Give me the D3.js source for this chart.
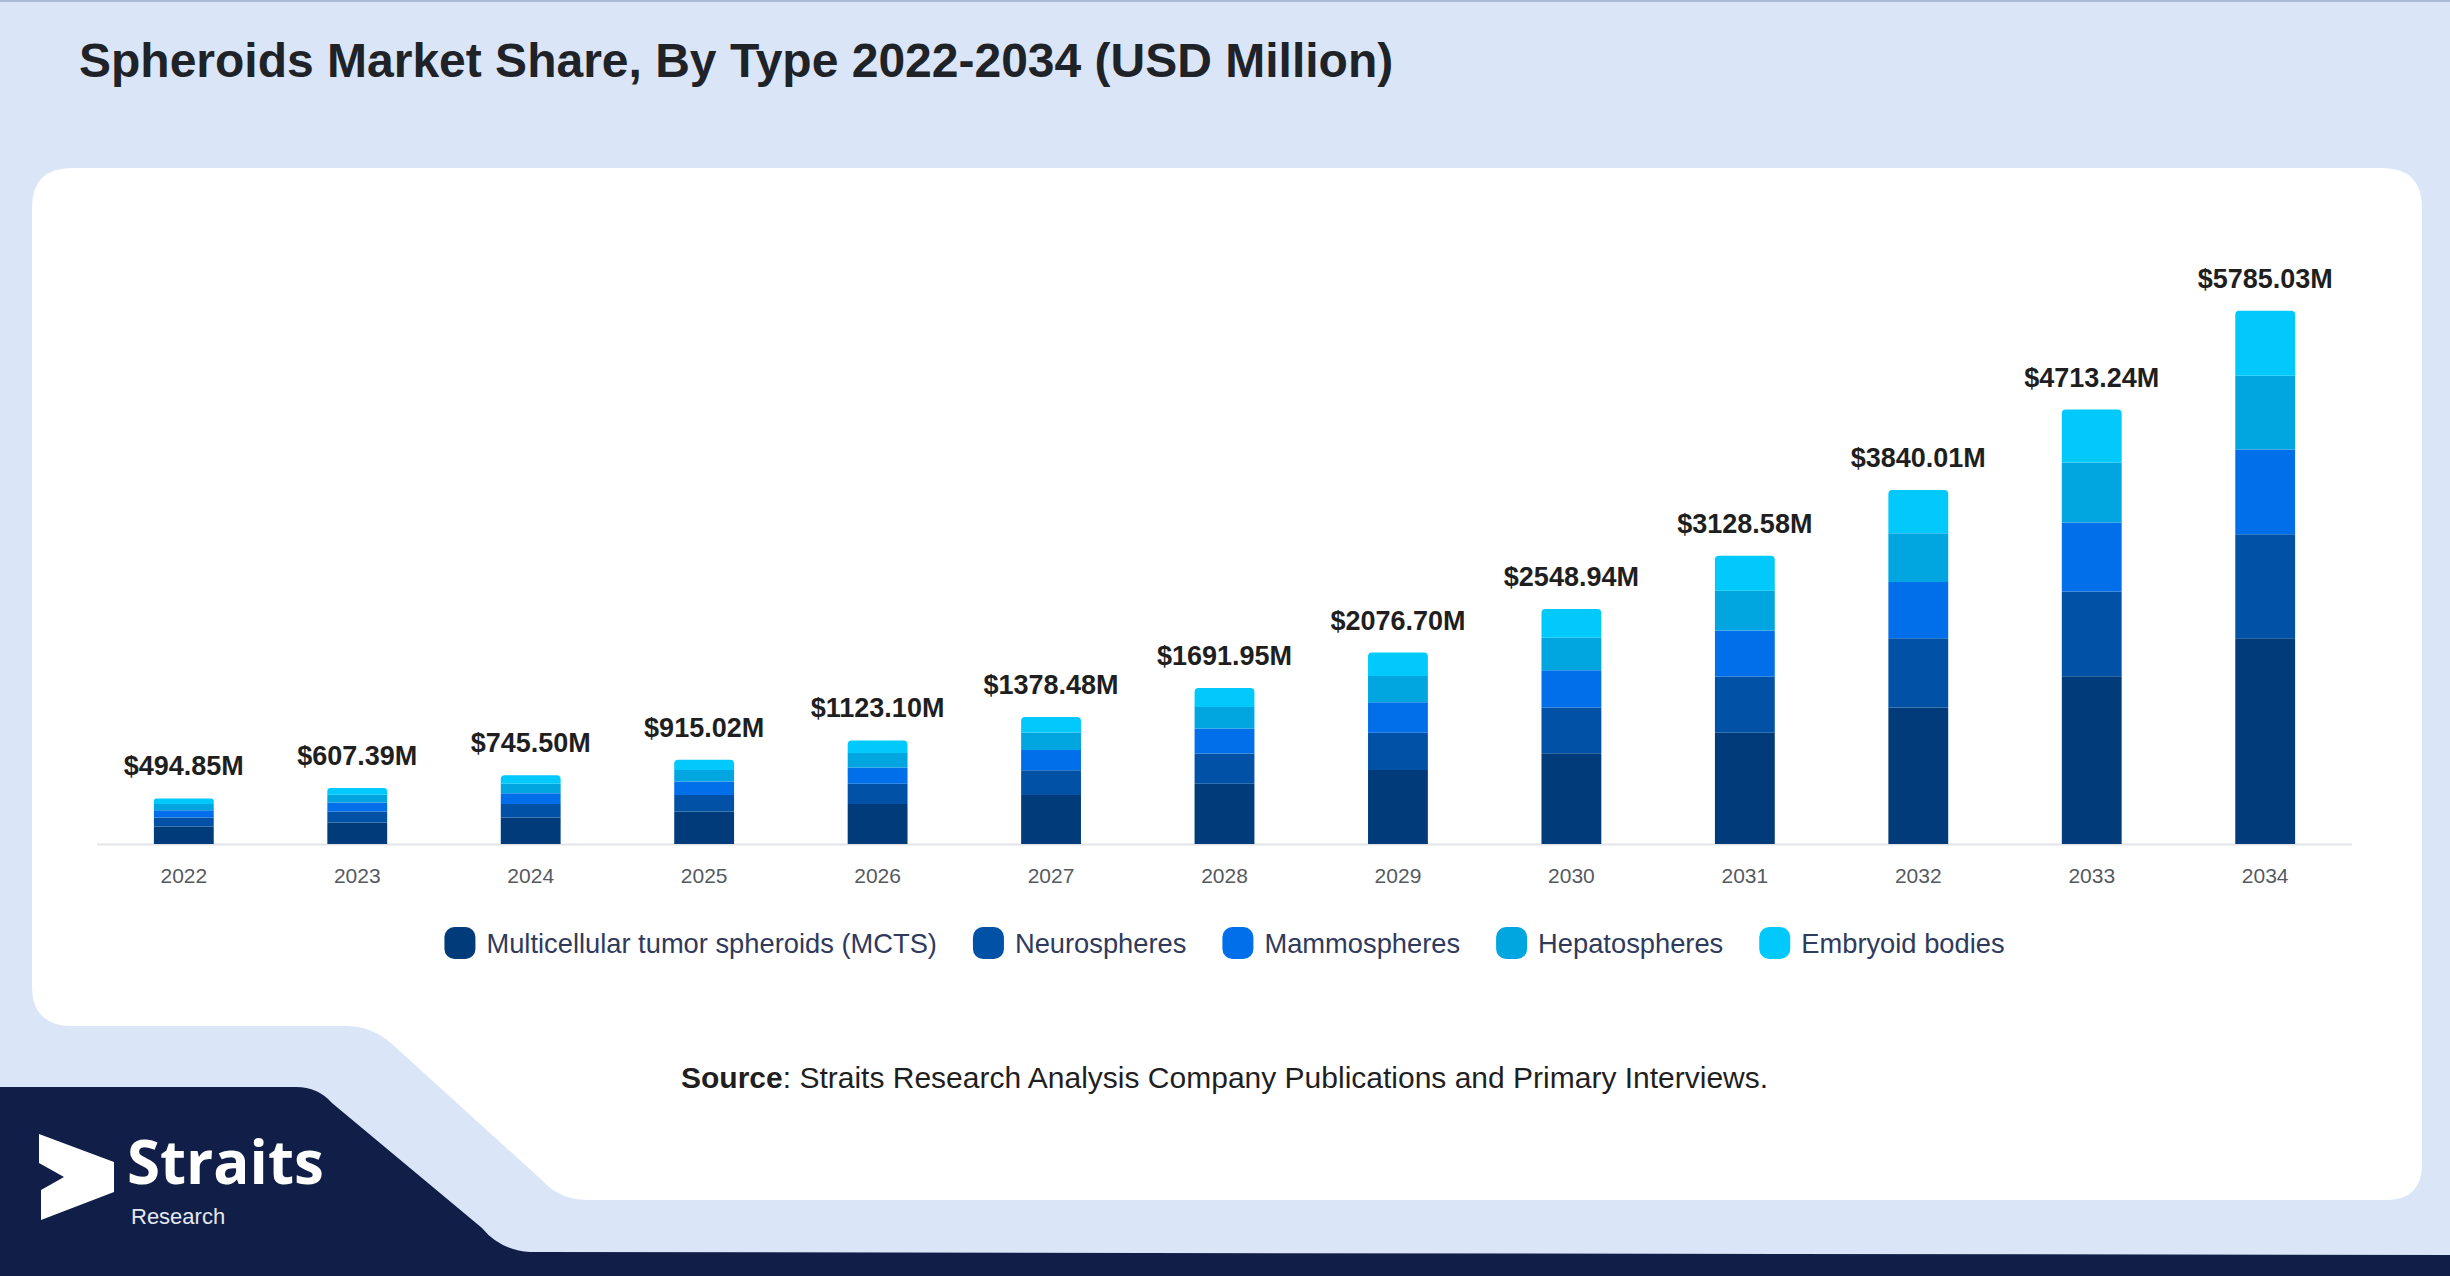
<!DOCTYPE html>
<html>
<head>
<meta charset="utf-8">
<script src="https://cdn.jsdelivr.net/npm/d3@7/dist/d3.min.js"></script>
<style>
  html, body { margin: 0; padding: 0; background: #dae6f8; }
  svg { display: block; }
</style>
</head>
<body>
<svg id="chart" width="2450" height="1276"></svg>
<script>
// Data (USD million)
const years = ['2022', '2023', '2024', '2025', '2026', '2027', '2028', '2029', '2030', '2031', '2032', '2033', '2034'];
const seriesNames = ['Multicellular tumor spheroids (MCTS)', 'Neurospheres', 'Mammospheres', 'Hepatospheres', 'Embryoid bodies'];
const mcts = [191.01, 234.45, 287.76, 353.20, 433.52, 532.09, 653.09, 801.61, 983.89, 1207.63, 1482.24, 1819.31, 2233.02];
const neuro = [96.50, 118.44, 145.37, 178.43, 219.00, 268.80, 329.93, 404.96, 497.04, 610.07, 748.80, 919.08, 1128.08];
const mammo = [78.68, 96.58, 118.53, 145.49, 178.57, 219.18, 269.02, 330.20, 405.28, 497.44, 610.56, 749.41, 919.82];
const hepato = [68.29, 83.82, 102.88, 126.27, 154.99, 190.23, 233.49, 286.58, 351.75, 431.74, 529.92, 650.43, 798.33];
const embryoid = [60.37, 74.10, 90.96, 111.63, 137.02, 168.18, 206.42, 253.35, 310.98, 381.70, 468.49, 575.01, 705.78];
const totals = [494.85, 607.39, 745.50, 915.02, 1123.10, 1378.48, 1691.95, 2076.70, 2548.94, 3128.58, 3840.01, 4713.24, 5785.03];

const COLORS = ['#013b7a', '#0152a6', '#016fea', '#01a6e0', '#01c9fb'];
const FONT = '"Liberation Sans", Arial, sans-serif';

const W = 2450, H = 1276;
const svg = d3.select('#chart');

// ── background decoration ──────────────────────────────
svg.append('rect').attr('width', W).attr('height', H).attr('fill', '#dae6f8');
svg.append('rect').attr('width', W).attr('height', 2).attr('fill', '#a9b9d9');

// navy footer shape
svg.append('path')
  .attr('d', 'M0,1087 L296,1087 Q318,1087 332,1103 L482,1228 Q500,1250 530,1252 L2450,1255 L2450,1276 L0,1276 Z')
  .attr('fill', '#111f48');

// white card with the stepped bottom-left
svg.append('path')
  .attr('d', [
    'M72,168 L2382,168 Q2422,168 2422,208',
    'L2422,1164 Q2422,1200 2386,1200',
    'L590,1200 Q560,1200 544,1182',
    'L392,1044 Q372,1026 346,1026',
    'L72,1026 Q32,1026 32,986',
    'L32,208 Q32,168 72,168 Z'
  ].join(' '))
  .attr('fill', '#ffffff');

// title
svg.append('text')
  .attr('x', 79).attr('y', 77)
  .attr('font-family', FONT).attr('font-weight', 700).attr('font-size', 48)
  .attr('fill', '#1f2328')
  .text('Spheroids Market Share, By Type 2022-2034 (USD Million)');

// ── chart ──────────────────────────────────────────────
const baseY = 844;
const x = d3.scaleBand().domain(years).range([97, 2352]).paddingInner(0.655).paddingOuter(0.328);
const y = d3.scaleLinear().domain([0, 6000]).range([baseY, 291]);

const rows = years.map((yr, i) => ({
  year: yr,
  s0: mcts[i], s1: neuro[i], s2: mammo[i], s3: hepato[i], s4: embryoid[i],
  total: totals[i],
}));
const keys = ['s0', 's1', 's2', 's3', 's4'];
const stacked = d3.stack().keys(keys)(rows);

// axis line
svg.append('line')
  .attr('x1', 97).attr('x2', 2352).attr('y1', baseY + 0.5).attr('y2', baseY + 0.5)
  .attr('stroke', '#e2e4e8').attr('stroke-width', 2);

const bars = svg.append('g');
stacked.forEach((layer, li) => {
  const isTop = li === keys.length - 1;
  bars.append('g').attr('fill', COLORS[li])
    .selectAll('path')
    .data(layer)
    .join('path')
    .attr('d', (d) => {
      const x0 = x(d.data.year), w = x.bandwidth();
      const y0 = y(d[1]), y1 = y(d[0]);
      const r = isTop ? Math.min(4, (y1 - y0) / 2) : 0;
      return `M${x0},${y1} L${x0},${y0 + r} Q${x0},${y0} ${x0 + r},${y0} L${x0 + w - r},${y0} Q${x0 + w},${y0} ${x0 + w},${y0 + r} L${x0 + w},${y1} Z`;
    });
});

// total labels
svg.append('g').selectAll('text')
  .data(rows)
  .join('text')
  .attr('x', (d) => x(d.year) + x.bandwidth() / 2)
  .attr('y', (d) => y(d.total) - 23)
  .attr('text-anchor', 'middle')
  .attr('font-family', FONT).attr('font-weight', 700).attr('font-size', 27)
  .attr('fill', '#1f1f1f')
  .text((d) => `$${d3.format('.2f')(d.total)}M`);

// year ticks
const xAxis = svg.append('g')
  .attr('transform', `translate(0,${baseY})`)
  .call(d3.axisBottom(x).tickSize(0).tickPadding(24));
xAxis.select('.domain').remove();
xAxis.selectAll('text')
  .attr('font-family', FONT).attr('font-size', 21).attr('fill', '#555a60');

// legend
const legend = svg.append('g').attr('transform', 'translate(0,943)');
const items = legend.selectAll('g').data(seriesNames).join('g');
items.append('rect')
  .attr('x', 0).attr('y', -16).attr('width', 31).attr('height', 32).attr('rx', 10)
  .attr('fill', (d, i) => COLORS[i]);
items.append('text')
  .attr('x', 42).attr('y', 10)
  .attr('font-family', FONT).attr('font-size', 27.3).attr('fill', '#2f3a5c')
  .text((d) => d);

let cursor = 0;
const offsets = [];
items.each(function () {
  offsets.push(cursor);
  const tw = d3.select(this).select('text').node().getComputedTextLength();
  cursor += 42 + tw + 36;
});
const legendWidth = cursor - 36;
const legendStart = (97 + 2352) / 2 - legendWidth / 2;
items.attr('transform', (d, i) => `translate(${legendStart + offsets[i]},0)`);

// source line
const src = svg.append('text')
  .attr('x', 681).attr('y', 1088)
  .attr('font-family', FONT).attr('font-size', 30).attr('fill', '#1f1f1f');
src.append('tspan').attr('font-weight', 700).text('Source');
src.append('tspan').text(': Straits Research Analysis Company Publications and Primary Interviews.');

// logo
svg.append('path')
  .attr('d', 'M39,1134 L114,1162 L114,1192 L41,1220 L41,1190 L64,1177 L39,1163 Z')
  .attr('fill', '#ffffff');
svg.append('text')
  .attr('x', 127).attr('y', 1184)
  .attr('font-family', '"Open Sans", sans-serif').attr('font-weight', 700).attr('font-size', 60)
  .attr('fill', '#ffffff')
  .text('Straits');
svg.append('text')
  .attr('x', 131).attr('y', 1224)
  .attr('font-family', FONT).attr('font-size', 22)
  .attr('fill', '#e4e8f0')
  .text('Research');
</script>
</body>
</html>
